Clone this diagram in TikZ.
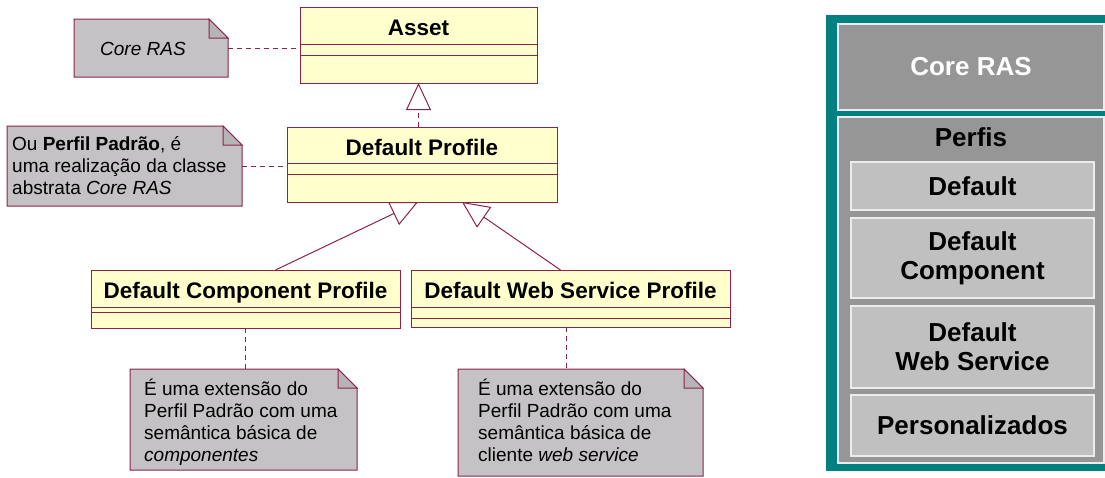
\documentclass[tikz,border=0pt]{standalone}
\usepackage{fontspec}
\setmainfont{Liberation Sans}
\usetikzlibrary{arrows.meta,positioning}

\definecolor{umlred}{RGB}{140,35,75}
\definecolor{umlyellow}{RGB}{255,255,206}
\definecolor{notegray}{RGB}{196,194,196}
\definecolor{foldgray}{RGB}{182,180,184}
\definecolor{panelteal}{RGB}{0,128,128}
\definecolor{panelgray}{RGB}{150,150,150}
\definecolor{boxgray}{RGB}{192,192,192}

\tikzset{
    classbox/.style={draw=umlred, fill=umlyellow, line width=1pt, inner sep=0pt, outer sep=0pt},
    classline/.style={draw=umlred, line width=1pt},
    classname/.style={font=\fontsize{22.5}{26}\selectfont\bfseries, inner sep=0pt},
    notearea/.style={inner sep=0pt, outer sep=0pt},
    notepath/.style={draw=umlred, fill=notegray, line width=1pt},
    notetext/.style={align=left, inner sep=0pt, font=\fontsize{19}{22}\selectfont},
    notelink/.style={draw=umlred, line width=1pt, dash pattern=on 5pt off 4pt},
    generalize/.style={draw=umlred, line width=1pt, -{Triangle[open, length=27pt, width=25pt, fill=white]}},
    realize/.style={generalize, dash pattern=on 5pt off 4pt},
    panelbox/.style={draw=white!85!gray, line width=1.3pt, inner sep=0pt, align=center, font=\fontsize{26}{29}\selectfont\bfseries}
}

% folded corner of a UML note
\newcommand{\notefold}[1]{%
    \draw[notepath] (#1.north west) -- ([xshift=-19pt]#1.north east) -- ([yshift=-19pt]#1.north east) -- (#1.south east) -- (#1.south west) -- cycle;
    \draw[notepath, fill=foldgray] ([xshift=-19pt]#1.north east) -- ([xshift=-19pt,yshift=-19pt]#1.north east) -- ([yshift=-19pt]#1.north east) -- cycle;
}

\begin{document}
\begin{tikzpicture}[x=1pt, y=-1pt]
    \useasboundingbox (0,0) rectangle (1105,477);

    % Classes
    \foreach \name/\cx/\cy/\w/\h/\sa/\sb/\title in {
        asset/418.5/45/237/76/37/48/Asset,
        dprofile/422/164.5/270/75/36/47/Default Profile,
        compprofile/245.5/299/309/58/37/42/Default Component Profile,
        webprofile/570.5/298.5/319/57/37/48/Default Web Service Profile} {
        \node[classbox, minimum width=\w pt, minimum height=\h pt] (\name) at (\cx,\cy) {};
        \draw[classline] ([yshift=-\sa pt]\name.north west) -- ([yshift=-\sa pt]\name.north east);
        \draw[classline] ([yshift=-\sb pt]\name.north west) -- ([yshift=-\sb pt]\name.north east);
        \node[classname, anchor=base] (\name-title) at ([yshift=-28pt]\name.north) {\title};
    }

    % Notes (text placed at the baseline of its last line)
    \node[notearea, minimum width=154pt, minimum height=58pt] (corenote) at (151,48) {};
    \notefold{corenote}
    \node[notetext, anchor=base west] (corenote-text) at (100,55) {\itshape Core RAS};

    \node[notearea, minimum width=235pt, minimum height=80pt] (profilenote) at (124.5,166) {};
    \notefold{profilenote}
    \node[notetext, anchor=base west] (profilenote-text) at (12,194) {Ou \textbf{Perfil Padrão}, é\\uma realização da classe\\abstrata \textit{Core RAS}};

    \node[notearea, minimum width=227pt, minimum height=101pt] (compnote) at (243.5,419.5) {};
    \notefold{compnote}
    \node[notetext, anchor=base west] (compnote-text) at (144,461) {É uma extensão do\\Perfil Padrão com uma\\semântica básica de\\\textit{componentes}};

    \node[notearea, minimum width=245pt, minimum height=107pt] (webnote) at (580.5,422.5) {};
    \notefold{webnote}
    \node[notetext, anchor=base west] (webnote-text) at (478,461) {É uma extensão do\\Perfil Padrão com uma\\semântica básica de\\cliente \textit{web service}};

    % Note links
    \draw[notelink] (corenote.east) -- (corenote.east -| asset.west);
    \draw[notelink] (profilenote.east) -- (profilenote.east -| dprofile.west);
    \draw[notelink] (compprofile.south) -- (compprofile.south |- compnote.north);
    \draw[notelink] ([xshift=-4pt]webprofile.south) -- ([xshift=-4pt]webprofile.south |- webnote.north);

    % Realization and generalization
    \draw[realize] (asset.south |- dprofile.north) -- (asset.south);
    \draw[generalize] ([xshift=30pt]compprofile.north) -- ([xshift=-4pt]dprofile.south);
    \draw[generalize] ([xshift=-10pt]webprofile.north) -- ([xshift=40pt]dprofile.south);

    % RAS layers
    \fill[panelteal] (826,15) rectangle (1110,471);
    \node[panelbox, fill=panelgray, text=white, minimum width=266pt, minimum height=86pt] (core) at (971,67) {Core RAS};
    \node[panelbox, fill=panelgray, minimum width=266pt, minimum height=346pt] (perfis) at (971,290) {};
    \node[panelbox, draw=none] (perfis-title) at (971,137) {Perfis};
    \foreach \name/\cy/\h/\txt in {
        default/186/48/Default,
        defcomp/258/80/{Default\\Component},
        defweb/347/82/{Default\\Web Service},
        custom/425.5/61/Personalizados} {
        \node[panelbox, fill=boxgray, minimum width=243pt, minimum height=\h pt] (\name) at (972.5,\cy) {\txt};
    }
\end{tikzpicture}
\end{document}
